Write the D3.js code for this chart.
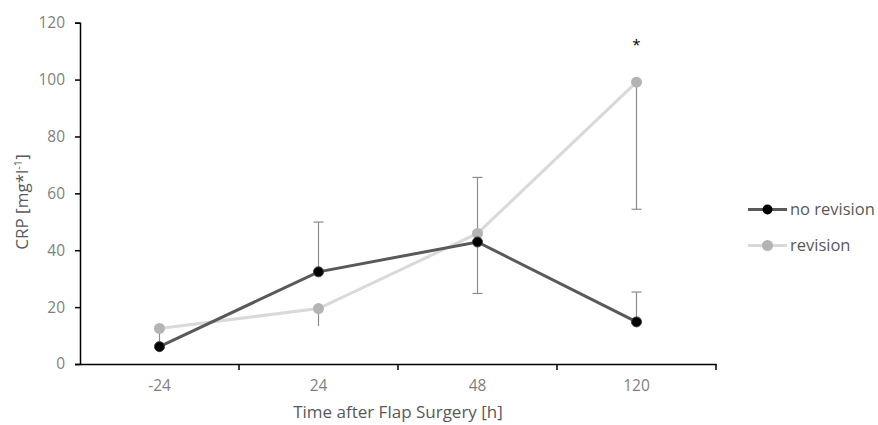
<!DOCTYPE html>
<html>
<head>
<meta charset="utf-8">
<script src="https://cdn.jsdelivr.net/npm/d3@7"></script>
<style>
  body { margin: 0; background: #fff; }
  text { font-family: "Open Sans", "Liberation Sans", sans-serif; }
</style>
</head>
<body>
<div id="chart"></div>
<script>
const categories = ["-24", "24", "48", "120"];
const noRevision = [6.1, 32.4, 42.9, 14.8];
const revision = [12.5, 19.5, 45.9, 99.1];
// error bar ends (null = none drawn)
const noRevisionErr = [null, 49.9, 24.8, 25.3];
const revisionErr = [6.1, 13.3, 65.6, 54.4];
const yTicks = [0, 20, 40, 60, 80, 100, 120];
const seriesNames = ["no revision", "revision"];

const width = 878, height = 425;
const margin = {left: 80, right: 162, top: 22.7, bottom: 61};

const svg = d3.select('#chart').append('svg')
    .attr('width', width)
    .attr('height', height);

const x = d3.scaleBand().domain(categories).range([margin.left, width - margin.right]);
const y = d3.scaleLinear().domain([0, 120]).range([height - margin.bottom, margin.top]);

// y axis
const yAxis = svg.append('g')
    .attr('transform', `translate(${margin.left},0)`)
    .call(d3.axisLeft(y).tickValues(yTicks).tickSize(5).tickPadding(10));
yAxis.select('.domain').attr('stroke', '#000').attr('stroke-width', 1.5);
yAxis.selectAll('.tick line').attr('stroke', '#000').attr('stroke-width', 1.5);
yAxis.selectAll('.tick text').attr('fill', '#7f7f7f').attr('font-size', 15.5);

// x axis: ticks sit between categories
const xAxis = svg.append('g')
    .attr('transform', `translate(0,${y(0)})`)
    .call(d3.axisBottom(x).tickSize(0).tickPadding(16));
xAxis.select('.domain').attr('stroke', '#000').attr('stroke-width', 1.5);
xAxis.selectAll('.tick text').attr('fill', '#7f7f7f').attr('font-size', 15.5);
const bounds = categories.slice(1).map(c => x(c)).concat([x.range()[1]]);
xAxis.selectAll('.sep').data(bounds).enter().append('line')
    .attr('x1', d => d).attr('x2', d => d)
    .attr('y1', 0).attr('y2', 6)
    .attr('stroke', '#000').attr('stroke-width', 1.5);

const cx = c => x(c) + x.bandwidth() / 2;

// error bars
function errBars(vals, errs) {
    const d = categories.map((c, i) => ({c: c, v: vals[i], e: errs[i]})).filter(d => d.e !== null);
    svg.selectAll(null).data(d).enter().append('line')
        .attr('x1', d => cx(d.c)).attr('x2', d => cx(d.c))
        .attr('y1', d => y(d.v)).attr('y2', d => y(d.e))
        .attr('stroke', '#8c8c8c').attr('stroke-width', 1.2);
    svg.selectAll(null).data(d.filter(d => Math.abs(d.e - d.v) > 8)).enter().append('line')
        .attr('x1', d => cx(d.c) - 5).attr('x2', d => cx(d.c) + 5)
        .attr('y1', d => y(d.e)).attr('y2', d => y(d.e))
        .attr('stroke', '#8c8c8c').attr('stroke-width', 1.2);
}
errBars(noRevision, noRevisionErr);
errBars(revision, revisionErr);

const line = d3.line().x((d, i) => cx(categories[i])).y(d => y(d));

svg.append('path').datum(revision)
    .attr('d', line).attr('fill', 'none')
    .attr('stroke', '#d9d9d9').attr('stroke-width', 3);
svg.append('path').datum(noRevision)
    .attr('d', line).attr('fill', 'none')
    .attr('stroke', '#595959').attr('stroke-width', 3);

svg.selectAll('.m2').data(revision).enter().append('circle')
    .attr('cx', (d, i) => cx(categories[i])).attr('cy', d => y(d))
    .attr('r', 5.5).attr('fill', '#b4b4b4');
svg.selectAll('.m1').data(noRevision).enter().append('circle')
    .attr('cx', (d, i) => cx(categories[i])).attr('cy', d => y(d))
    .attr('r', 5).attr('fill', '#000').attr('stroke', '#404040').attr('stroke-width', 1);

// significance mark
svg.append('text')
    .attr('x', cx('120')).attr('y', 50)
    .attr('text-anchor', 'middle').attr('font-size', 15).attr('fill', '#000')
    .text('*');

// axis titles
svg.append('text')
    .attr('x', 398).attr('y', 418)
    .attr('text-anchor', 'middle').attr('font-size', 17).attr('fill', '#595959')
    .text('Time after Flap Surgery [h]');

const yt = svg.append('text')
    .attr('transform', `translate(28,202) rotate(-90)`)
    .attr('text-anchor', 'middle').attr('font-size', 17).attr('fill', '#595959');
yt.append('tspan').text('CRP [mg*l');
yt.append('tspan').attr('font-size', 11).attr('dy', -6).text('-1');
yt.append('tspan').attr('dy', 6).text(']');

// legend
const legend = svg.selectAll('.leg').data(seriesNames).enter().append('g')
    .attr('transform', (d, i) => `translate(748,${209.5 + i * 36})`);
legend.append('line')
    .attr('x1', 0).attr('x2', 39)
    .attr('stroke', (d, i) => i === 0 ? '#595959' : '#d9d9d9').attr('stroke-width', 3);
legend.append('circle')
    .attr('cx', 19.5).attr('r', (d, i) => i === 0 ? 5 : 5.5)
    .attr('fill', (d, i) => i === 0 ? '#000' : '#b4b4b4');
legend.append('text')
    .attr('x', 42).attr('dy', '0.35em')
    .attr('font-size', 16.5).attr('fill', '#595959')
    .text(d => d);
</script>
</body>
</html>
